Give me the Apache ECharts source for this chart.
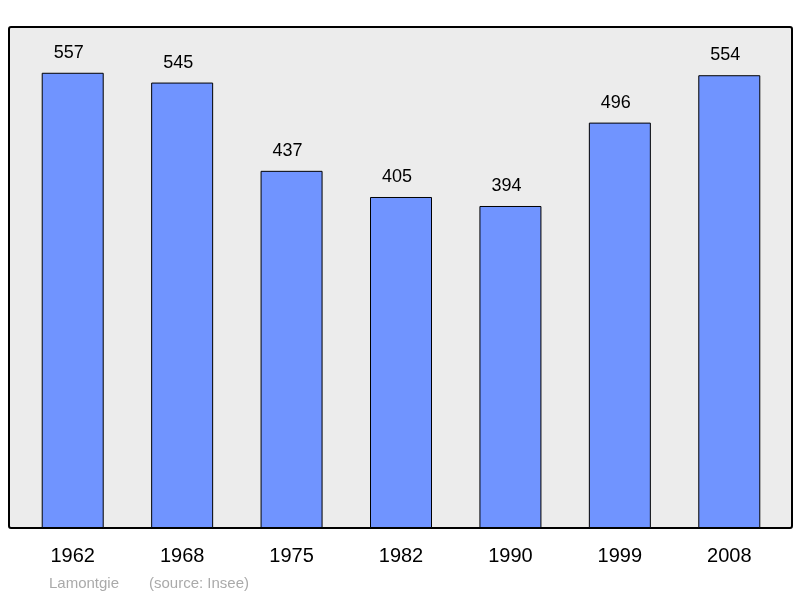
<!DOCTYPE html>
<html>
<head>
<meta charset="utf-8"/>
<script src="https://cdn.jsdelivr.net/npm/echarts@6/dist/echarts.min.js"></script>
</head>
<body style="margin:0">
<div id="chart" style="width:800px;height:598px;"></div>
<script type="text/javascript">
var years = ['1962', '1968', '1975', '1982', '1990', '1999', '2008'];
var population = [557, 545, 437, 405, 394, 496, 554];

var chart = echarts.init(document.getElementById('chart'));
var option = {
    animation: false,
    textStyle: { fontFamily: 'Liberation Sans, Arial, sans-serif' },
    graphic: [
        { type: 'rect', z: -10, shape: { x: 9, y: 27, width: 783, height: 501, r: 2 },
          style: { fill: '#ececec', stroke: '#000', lineWidth: 2 } },
        { type: 'text', left: 49, top: 576,
          style: { text: 'Lamontgie', fill: '#aaaaaa', fontSize: 15, fontFamily: 'Liberation Sans, Arial, sans-serif' } },
        { type: 'text', left: 149, top: 576,
          style: { text: '(source: Insee)', fill: '#aaaaaa', fontSize: 15, fontFamily: 'Liberation Sans, Arial, sans-serif' } }
    ],
    grid: { left: 18, right: 16, top: 27, bottom: 70 },
    xAxis: {
        type: 'category',
        data: years,
        axisLine: { show: false },
        axisTick: { show: false },
        axisLabel: { color: '#000', fontSize: 20, margin: 18 }
    },
    yAxis: { type: 'value', min: 0, max: 613, show: false },
    series: [{
        type: 'bar',
        data: population,
        barWidth: 62,
        itemStyle: { color: '#7094ff', borderColor: '#000', borderWidth: 1 },
        label: { show: true, position: 'top', distance: 11, offset: [-4, 0], color: '#000', fontSize: 18 }
    }]
};
chart.setOption(option);
</script>
</body>
</html>
